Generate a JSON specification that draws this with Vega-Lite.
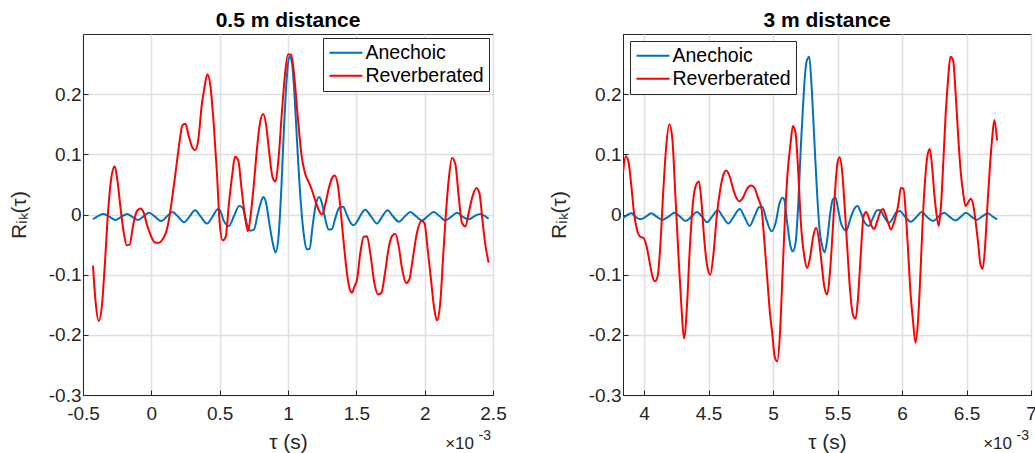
{
"$schema": "https://vega.github.io/schema/vega-lite/v6.json",
"background": "white",
"padding": {"left": 7, "top": 9, "right": 0, "bottom": 0},
"datasets": {
"near": [
{"s":"Anechoic","t":-0.427,"r":-0.008},{"s":"Anechoic","t":-0.349,"r":0.001},{"s":"Anechoic","t":-0.305,"r":-0.004},{"s":"Anechoic","t":-0.263,"r":-0.009},{"s":"Anechoic","t":-0.220,"r":-0.004},{"s":"Anechoic","t":-0.178,"r":0.001},{"s":"Anechoic","t":-0.139,"r":-0.004},{"s":"Anechoic","t":-0.098,"r":-0.009},{"s":"Anechoic","t":-0.056,"r":-0.003},{"s":"Anechoic","t":-0.017,"r":0.003},{"s":"Anechoic","t":0.029,"r":-0.004},{"s":"Anechoic","t":0.073,"r":-0.011},{"s":"Anechoic","t":0.115,"r":-0.003},{"s":"Anechoic","t":0.154,"r":0.004},{"s":"Anechoic","t":0.198,"r":-0.004},{"s":"Anechoic","t":0.239,"r":-0.013},{"s":"Anechoic","t":0.280,"r":-0.003},{"s":"Anechoic","t":0.320,"r":0.007},{"s":"Anechoic","t":0.363,"r":-0.004},{"s":"Anechoic","t":0.407,"r":-0.015},{"s":"Anechoic","t":0.449,"r":-0.003},{"s":"Anechoic","t":0.488,"r":0.009},{"s":"Anechoic","t":0.502,"r":0.007},{"s":"Anechoic","t":0.531,"r":-0.011},{"s":"Anechoic","t":0.568,"r":-0.019},{"s":"Anechoic","t":0.604,"r":-0.003},{"s":"Anechoic","t":0.643,"r":0.014},{"s":"Anechoic","t":0.668,"r":0.011},{"s":"Anechoic","t":0.697,"r":-0.014},{"s":"Anechoic","t":0.726,"r":-0.027},{"s":"Anechoic","t":0.751,"r":-0.025},{"s":"Anechoic","t":0.778,"r":0.000},{"s":"Anechoic","t":0.800,"r":0.019},{"s":"Anechoic","t":0.819,"r":0.029},{"s":"Anechoic","t":0.839,"r":0.020},{"s":"Anechoic","t":0.863,"r":-0.014},{"s":"Anechoic","t":0.888,"r":-0.047},{"s":"Anechoic","t":0.909,"r":-0.063},{"s":"Anechoic","t":0.931,"r":-0.036},{"s":"Anechoic","t":0.951,"r":0.042},{"s":"Anechoic","t":0.970,"r":0.141},{"s":"Anechoic","t":0.990,"r":0.224},{"s":"Anechoic","t":1.009,"r":0.263},{"s":"Anechoic","t":1.029,"r":0.252},{"s":"Anechoic","t":1.048,"r":0.197},{"s":"Anechoic","t":1.068,"r":0.114},{"s":"Anechoic","t":1.092,"r":0.025},{"s":"Anechoic","t":1.117,"r":-0.036},{"s":"Anechoic","t":1.136,"r":-0.058},{"s":"Anechoic","t":1.158,"r":-0.057},{"s":"Anechoic","t":1.180,"r":-0.019},{"s":"Anechoic","t":1.204,"r":0.017},{"s":"Anechoic","t":1.229,"r":0.029},{"s":"Anechoic","t":1.248,"r":0.019},{"s":"Anechoic","t":1.273,"r":-0.008},{"s":"Anechoic","t":1.297,"r":-0.025},{"s":"Anechoic","t":1.322,"r":-0.024},{"s":"Anechoic","t":1.346,"r":-0.006},{"s":"Anechoic","t":1.375,"r":0.011},{"s":"Anechoic","t":1.404,"r":0.013},{"s":"Anechoic","t":1.429,"r":0.000},{"s":"Anechoic","t":1.458,"r":-0.014},{"s":"Anechoic","t":1.480,"r":-0.018},{"s":"Anechoic","t":1.505,"r":-0.012},{"s":"Anechoic","t":1.534,"r":0.000},{"s":"Anechoic","t":1.565,"r":0.008},{"s":"Anechoic","t":1.607,"r":-0.003},{"s":"Anechoic","t":1.651,"r":-0.015},{"s":"Anechoic","t":1.690,"r":-0.003},{"s":"Anechoic","t":1.729,"r":0.007},{"s":"Anechoic","t":1.768,"r":-0.003},{"s":"Anechoic","t":1.812,"r":-0.012},{"s":"Anechoic","t":1.856,"r":-0.003},{"s":"Anechoic","t":1.895,"r":0.004},{"s":"Anechoic","t":1.937,"r":-0.003},{"s":"Anechoic","t":1.981,"r":-0.010},{"s":"Anechoic","t":2.022,"r":-0.003},{"s":"Anechoic","t":2.066,"r":0.004},{"s":"Anechoic","t":2.110,"r":-0.003},{"s":"Anechoic","t":2.151,"r":-0.010},{"s":"Anechoic","t":2.193,"r":-0.004},{"s":"Anechoic","t":2.237,"r":0.003},{"s":"Anechoic","t":2.281,"r":-0.004},{"s":"Anechoic","t":2.322,"r":-0.008},{"s":"Anechoic","t":2.363,"r":-0.003},{"s":"Anechoic","t":2.407,"r":0.001},{"s":"Anechoic","t":2.444,"r":-0.003},{"s":"Anechoic","t":2.468,"r":-0.007},
{"s":"Reverberated","t":-0.427,"r":-0.085},{"s":"Reverberated","t":-0.407,"r":-0.147},{"s":"Reverberated","t":-0.385,"r":-0.177},{"s":"Reverberated","t":-0.361,"r":-0.150},{"s":"Reverberated","t":-0.341,"r":-0.086},{"s":"Reverberated","t":-0.317,"r":0.003},{"s":"Reverberated","t":-0.293,"r":0.061},{"s":"Reverberated","t":-0.268,"r":0.080},{"s":"Reverberated","t":-0.249,"r":0.058},{"s":"Reverberated","t":-0.224,"r":0.008},{"s":"Reverberated","t":-0.202,"r":-0.030},{"s":"Reverberated","t":-0.180,"r":-0.051},{"s":"Reverberated","t":-0.159,"r":-0.050},{"s":"Reverberated","t":-0.134,"r":-0.019},{"s":"Reverberated","t":-0.105,"r":0.006},{"s":"Reverberated","t":-0.080,"r":0.010},{"s":"Reverberated","t":-0.056,"r":0.003},{"s":"Reverberated","t":-0.032,"r":-0.017},{"s":"Reverberated","t":-0.007,"r":-0.033},{"s":"Reverberated","t":0.024,"r":-0.046},{"s":"Reverberated","t":0.056,"r":-0.047},{"s":"Reverberated","t":0.080,"r":-0.042},{"s":"Reverberated","t":0.110,"r":-0.028},{"s":"Reverberated","t":0.129,"r":-0.008},{"s":"Reverberated","t":0.154,"r":0.030},{"s":"Reverberated","t":0.183,"r":0.080},{"s":"Reverberated","t":0.207,"r":0.122},{"s":"Reverberated","t":0.227,"r":0.148},{"s":"Reverberated","t":0.249,"r":0.151},{"s":"Reverberated","t":0.271,"r":0.133},{"s":"Reverberated","t":0.295,"r":0.114},{"s":"Reverberated","t":0.320,"r":0.107},{"s":"Reverberated","t":0.344,"r":0.125},{"s":"Reverberated","t":0.368,"r":0.180},{"s":"Reverberated","t":0.388,"r":0.210},{"s":"Reverberated","t":0.410,"r":0.233},{"s":"Reverberated","t":0.432,"r":0.214},{"s":"Reverberated","t":0.456,"r":0.152},{"s":"Reverberated","t":0.480,"r":0.069},{"s":"Reverberated","t":0.500,"r":-0.014},{"s":"Reverberated","t":0.522,"r":-0.043},{"s":"Reverberated","t":0.544,"r":-0.037},{"s":"Reverberated","t":0.568,"r":0.019},{"s":"Reverberated","t":0.592,"r":0.066},{"s":"Reverberated","t":0.612,"r":0.096},{"s":"Reverberated","t":0.636,"r":0.090},{"s":"Reverberated","t":0.658,"r":0.047},{"s":"Reverberated","t":0.683,"r":0.000},{"s":"Reverberated","t":0.707,"r":-0.028},{"s":"Reverberated","t":0.729,"r":0.003},{"s":"Reverberated","t":0.753,"r":0.058},{"s":"Reverberated","t":0.775,"r":0.114},{"s":"Reverberated","t":0.795,"r":0.152},{"s":"Reverberated","t":0.819,"r":0.167},{"s":"Reverberated","t":0.841,"r":0.147},{"s":"Reverberated","t":0.863,"r":0.102},{"s":"Reverberated","t":0.888,"r":0.061},{"s":"Reverberated","t":0.909,"r":0.055},{"s":"Reverberated","t":0.931,"r":0.094},{"s":"Reverberated","t":0.956,"r":0.172},{"s":"Reverberated","t":0.978,"r":0.233},{"s":"Reverberated","t":1.000,"r":0.266},{"s":"Reverberated","t":1.024,"r":0.266},{"s":"Reverberated","t":1.048,"r":0.224},{"s":"Reverberated","t":1.073,"r":0.158},{"s":"Reverberated","t":1.100,"r":0.097},{"s":"Reverberated","t":1.124,"r":0.069},{"s":"Reverberated","t":1.149,"r":0.055},{"s":"Reverberated","t":1.173,"r":0.042},{"s":"Reverberated","t":1.197,"r":0.025},{"s":"Reverberated","t":1.224,"r":0.008},{"s":"Reverberated","t":1.249,"r":0.000},{"s":"Reverberated","t":1.273,"r":0.017},{"s":"Reverberated","t":1.297,"r":0.042},{"s":"Reverberated","t":1.319,"r":0.059},{"s":"Reverberated","t":1.341,"r":0.065},{"s":"Reverberated","t":1.366,"r":0.047},{"s":"Reverberated","t":1.388,"r":0.000},{"s":"Reverberated","t":1.409,"r":-0.050},{"s":"Reverberated","t":1.431,"r":-0.097},{"s":"Reverberated","t":1.453,"r":-0.125},{"s":"Reverberated","t":1.468,"r":-0.130},{"s":"Reverberated","t":1.486,"r":-0.120},{"s":"Reverberated","t":1.505,"r":-0.108},{"s":"Reverberated","t":1.529,"r":-0.064},{"s":"Reverberated","t":1.554,"r":-0.037},{"s":"Reverberated","t":1.578,"r":-0.036},{"s":"Reverberated","t":1.603,"r":-0.066},{"s":"Reverberated","t":1.632,"r":-0.114},{"s":"Reverberated","t":1.659,"r":-0.133},{"s":"Reverberated","t":1.683,"r":-0.130},{"s":"Reverberated","t":1.710,"r":-0.097},{"s":"Reverberated","t":1.737,"r":-0.055},{"s":"Reverberated","t":1.761,"r":-0.036},{"s":"Reverberated","t":1.785,"r":-0.032},{"s":"Reverberated","t":1.810,"r":-0.053},{"s":"Reverberated","t":1.834,"r":-0.089},{"s":"Reverberated","t":1.864,"r":-0.114},{"s":"Reverberated","t":1.888,"r":-0.108},{"s":"Reverberated","t":1.912,"r":-0.075},{"s":"Reverberated","t":1.944,"r":-0.030},{"s":"Reverberated","t":1.976,"r":-0.011},{"s":"Reverberated","t":1.998,"r":-0.014},{"s":"Reverberated","t":2.022,"r":-0.058},{"s":"Reverberated","t":2.046,"r":-0.108},{"s":"Reverberated","t":2.071,"r":-0.158},{"s":"Reverberated","t":2.090,"r":-0.176},{"s":"Reverberated","t":2.115,"r":-0.144},{"s":"Reverberated","t":2.134,"r":-0.075},{"s":"Reverberated","t":2.154,"r":-0.003},{"s":"Reverberated","t":2.176,"r":0.058},{"s":"Reverberated","t":2.200,"r":0.094},{"s":"Reverberated","t":2.225,"r":0.083},{"s":"Reverberated","t":2.249,"r":0.030},{"s":"Reverberated","t":2.273,"r":-0.014},{"s":"Reverberated","t":2.298,"r":-0.020},{"s":"Reverberated","t":2.322,"r":0.003},{"s":"Reverberated","t":2.354,"r":0.033},{"s":"Reverberated","t":2.378,"r":0.044},{"s":"Reverberated","t":2.400,"r":0.036},{"s":"Reverberated","t":2.425,"r":-0.014},{"s":"Reverberated","t":2.444,"r":-0.050},{"s":"Reverberated","t":2.468,"r":-0.080}
],
"far": [
{"s":"Anechoic","t":3.837,"r":-0.006},{"s":"Anechoic","t":3.876,"r":0.000},{"s":"Anechoic","t":3.902,"r":0.002},{"s":"Anechoic","t":3.935,"r":-0.004},{"s":"Anechoic","t":3.971,"r":-0.008},{"s":"Anechoic","t":4.013,"r":-0.004},{"s":"Anechoic","t":4.056,"r":0.002},{"s":"Anechoic","t":4.100,"r":-0.004},{"s":"Anechoic","t":4.142,"r":-0.009},{"s":"Anechoic","t":4.193,"r":-0.003},{"s":"Anechoic","t":4.237,"r":0.003},{"s":"Anechoic","t":4.281,"r":-0.004},{"s":"Anechoic","t":4.322,"r":-0.011},{"s":"Anechoic","t":4.366,"r":-0.004},{"s":"Anechoic","t":4.410,"r":0.004},{"s":"Anechoic","t":4.452,"r":-0.004},{"s":"Anechoic","t":4.488,"r":-0.013},{"s":"Anechoic","t":4.529,"r":-0.003},{"s":"Anechoic","t":4.573,"r":0.007},{"s":"Anechoic","t":4.612,"r":-0.004},{"s":"Anechoic","t":4.653,"r":-0.015},{"s":"Anechoic","t":4.697,"r":-0.003},{"s":"Anechoic","t":4.741,"r":0.009},{"s":"Anechoic","t":4.779,"r":-0.004},{"s":"Anechoic","t":4.818,"r":-0.019},{"s":"Anechoic","t":4.857,"r":-0.003},{"s":"Anechoic","t":4.891,"r":0.012},{"s":"Anechoic","t":4.917,"r":0.013},{"s":"Anechoic","t":4.948,"r":-0.008},{"s":"Anechoic","t":4.989,"r":-0.028},{"s":"Anechoic","t":5.020,"r":-0.014},{"s":"Anechoic","t":5.051,"r":0.019},{"s":"Anechoic","t":5.072,"r":0.028},{"s":"Anechoic","t":5.087,"r":0.025},{"s":"Anechoic","t":5.110,"r":-0.014},{"s":"Anechoic","t":5.136,"r":-0.053},{"s":"Anechoic","t":5.154,"r":-0.061},{"s":"Anechoic","t":5.175,"r":-0.047},{"s":"Anechoic","t":5.196,"r":0.019},{"s":"Anechoic","t":5.216,"r":0.114},{"s":"Anechoic","t":5.237,"r":0.197},{"s":"Anechoic","t":5.258,"r":0.252},{"s":"Anechoic","t":5.281,"r":0.262},{"s":"Anechoic","t":5.299,"r":0.213},{"s":"Anechoic","t":5.320,"r":0.125},{"s":"Anechoic","t":5.340,"r":0.042},{"s":"Anechoic","t":5.361,"r":-0.025},{"s":"Anechoic","t":5.382,"r":-0.053},{"s":"Anechoic","t":5.400,"r":-0.063},{"s":"Anechoic","t":5.420,"r":-0.042},{"s":"Anechoic","t":5.444,"r":0.003},{"s":"Anechoic","t":5.464,"r":0.025},{"s":"Anechoic","t":5.485,"r":0.028},{"s":"Anechoic","t":5.505,"r":0.008},{"s":"Anechoic","t":5.531,"r":-0.017},{"s":"Anechoic","t":5.568,"r":-0.027},{"s":"Anechoic","t":5.601,"r":-0.006},{"s":"Anechoic","t":5.635,"r":0.011},{"s":"Anechoic","t":5.655,"r":0.014},{"s":"Anechoic","t":5.681,"r":0.003},{"s":"Anechoic","t":5.712,"r":-0.014},{"s":"Anechoic","t":5.743,"r":-0.019},{"s":"Anechoic","t":5.774,"r":-0.006},{"s":"Anechoic","t":5.808,"r":0.007},{"s":"Anechoic","t":5.831,"r":0.007},{"s":"Anechoic","t":5.859,"r":-0.003},{"s":"Anechoic","t":5.898,"r":-0.014},{"s":"Anechoic","t":5.937,"r":-0.003},{"s":"Anechoic","t":5.952,"r":0.003},{"s":"Anechoic","t":5.983,"r":0.006},{"s":"Anechoic","t":6.024,"r":-0.004},{"s":"Anechoic","t":6.068,"r":-0.012},{"s":"Anechoic","t":6.112,"r":-0.004},{"s":"Anechoic","t":6.153,"r":0.004},{"s":"Anechoic","t":6.195,"r":-0.004},{"s":"Anechoic","t":6.241,"r":-0.011},{"s":"Anechoic","t":6.282,"r":-0.004},{"s":"Anechoic","t":6.326,"r":0.003},{"s":"Anechoic","t":6.370,"r":-0.004},{"s":"Anechoic","t":6.412,"r":-0.010},{"s":"Anechoic","t":6.455,"r":-0.004},{"s":"Anechoic","t":6.494,"r":0.003},{"s":"Anechoic","t":6.541,"r":-0.004},{"s":"Anechoic","t":6.579,"r":-0.009},{"s":"Anechoic","t":6.623,"r":-0.003},{"s":"Anechoic","t":6.665,"r":0.002},{"s":"Anechoic","t":6.706,"r":-0.004},{"s":"Anechoic","t":6.737,"r":-0.008},
{"s":"Reverberated","t":3.837,"r":0.069},{"s":"Reverberated","t":3.858,"r":0.097},{"s":"Reverberated","t":3.878,"r":0.089},{"s":"Reverberated","t":3.902,"r":0.047},{"s":"Reverberated","t":3.922,"r":0.003},{"s":"Reverberated","t":3.945,"r":-0.025},{"s":"Reverberated","t":3.971,"r":-0.037},{"s":"Reverberated","t":3.997,"r":-0.039},{"s":"Reverberated","t":4.020,"r":-0.053},{"s":"Reverberated","t":4.044,"r":-0.080},{"s":"Reverberated","t":4.064,"r":-0.102},{"s":"Reverberated","t":4.085,"r":-0.111},{"s":"Reverberated","t":4.106,"r":-0.102},{"s":"Reverberated","t":4.126,"r":-0.053},{"s":"Reverberated","t":4.147,"r":0.030},{"s":"Reverberated","t":4.170,"r":0.108},{"s":"Reverberated","t":4.196,"r":0.150},{"s":"Reverberated","t":4.219,"r":0.127},{"s":"Reverberated","t":4.242,"r":0.036},{"s":"Reverberated","t":4.266,"r":-0.064},{"s":"Reverberated","t":4.289,"r":-0.150},{"s":"Reverberated","t":4.310,"r":-0.206},{"s":"Reverberated","t":4.333,"r":-0.152},{"s":"Reverberated","t":4.353,"r":-0.064},{"s":"Reverberated","t":4.379,"r":0.019},{"s":"Reverberated","t":4.405,"r":0.050},{"s":"Reverberated","t":4.426,"r":0.055},{"s":"Reverberated","t":4.446,"r":0.019},{"s":"Reverberated","t":4.467,"r":-0.042},{"s":"Reverberated","t":4.490,"r":-0.086},{"s":"Reverberated","t":4.514,"r":-0.100},{"s":"Reverberated","t":4.539,"r":-0.064},{"s":"Reverberated","t":4.565,"r":0.000},{"s":"Reverberated","t":4.591,"r":0.042},{"s":"Reverberated","t":4.612,"r":0.064},{"s":"Reverberated","t":4.637,"r":0.073},{"s":"Reverberated","t":4.663,"r":0.064},{"s":"Reverberated","t":4.689,"r":0.044},{"s":"Reverberated","t":4.715,"r":0.028},{"s":"Reverberated","t":4.741,"r":0.022},{"s":"Reverberated","t":4.767,"r":0.028},{"s":"Reverberated","t":4.797,"r":0.042},{"s":"Reverberated","t":4.831,"r":0.048},{"s":"Reverberated","t":4.857,"r":0.044},{"s":"Reverberated","t":4.883,"r":0.028},{"s":"Reverberated","t":4.912,"r":0.008},{"s":"Reverberated","t":4.932,"r":-0.042},{"s":"Reverberated","t":4.956,"r":-0.108},{"s":"Reverberated","t":4.976,"r":-0.163},{"s":"Reverberated","t":4.994,"r":-0.197},{"s":"Reverberated","t":5.012,"r":-0.235},{"s":"Reverberated","t":5.033,"r":-0.244},{"s":"Reverberated","t":5.054,"r":-0.197},{"s":"Reverberated","t":5.072,"r":-0.108},{"s":"Reverberated","t":5.092,"r":-0.008},{"s":"Reverberated","t":5.113,"r":0.069},{"s":"Reverberated","t":5.134,"r":0.114},{"s":"Reverberated","t":5.154,"r":0.147},{"s":"Reverberated","t":5.175,"r":0.135},{"s":"Reverberated","t":5.196,"r":0.069},{"s":"Reverberated","t":5.216,"r":-0.014},{"s":"Reverberated","t":5.242,"r":-0.069},{"s":"Reverberated","t":5.265,"r":-0.089},{"s":"Reverberated","t":5.289,"r":-0.069},{"s":"Reverberated","t":5.312,"r":-0.036},{"s":"Reverberated","t":5.335,"r":-0.022},{"s":"Reverberated","t":5.356,"r":-0.042},{"s":"Reverberated","t":5.376,"r":-0.080},{"s":"Reverberated","t":5.397,"r":-0.119},{"s":"Reverberated","t":5.420,"r":-0.133},{"s":"Reverberated","t":5.441,"r":-0.097},{"s":"Reverberated","t":5.462,"r":-0.030},{"s":"Reverberated","t":5.482,"r":0.042},{"s":"Reverberated","t":5.500,"r":0.086},{"s":"Reverberated","t":5.516,"r":0.095},{"s":"Reverberated","t":5.537,"r":0.069},{"s":"Reverberated","t":5.557,"r":0.008},{"s":"Reverberated","t":5.578,"r":-0.064},{"s":"Reverberated","t":5.599,"r":-0.130},{"s":"Reverberated","t":5.619,"r":-0.166},{"s":"Reverberated","t":5.640,"r":-0.173},{"s":"Reverberated","t":5.660,"r":-0.136},{"s":"Reverberated","t":5.681,"r":-0.064},{"s":"Reverberated","t":5.702,"r":-0.003},{"s":"Reverberated","t":5.722,"r":0.004},{"s":"Reverberated","t":5.743,"r":-0.006},{"s":"Reverberated","t":5.764,"r":-0.019},{"s":"Reverberated","t":5.784,"r":-0.024},{"s":"Reverberated","t":5.808,"r":-0.011},{"s":"Reverberated","t":5.831,"r":0.004},{"s":"Reverberated","t":5.852,"r":0.009},{"s":"Reverberated","t":5.872,"r":0.000},{"s":"Reverberated","t":5.893,"r":-0.014},{"s":"Reverberated","t":5.914,"r":-0.025},{"s":"Reverberated","t":5.937,"r":-0.014},{"s":"Reverberated","t":5.973,"r":0.019},{"s":"Reverberated","t":5.991,"r":0.044},{"s":"Reverberated","t":6.011,"r":0.043},{"s":"Reverberated","t":6.029,"r":0.003},{"s":"Reverberated","t":6.048,"r":-0.064},{"s":"Reverberated","t":6.066,"r":-0.130},{"s":"Reverberated","t":6.084,"r":-0.174},{"s":"Reverberated","t":6.105,"r":-0.213},{"s":"Reverberated","t":6.125,"r":-0.174},{"s":"Reverberated","t":6.143,"r":-0.097},{"s":"Reverberated","t":6.161,"r":-0.008},{"s":"Reverberated","t":6.179,"r":0.058},{"s":"Reverberated","t":6.197,"r":0.097},{"s":"Reverberated","t":6.215,"r":0.109},{"s":"Reverberated","t":6.233,"r":0.080},{"s":"Reverberated","t":6.252,"r":0.030},{"s":"Reverberated","t":6.270,"r":-0.003},{"s":"Reverberated","t":6.285,"r":-0.019},{"s":"Reverberated","t":6.303,"r":0.017},{"s":"Reverberated","t":6.321,"r":0.091},{"s":"Reverberated","t":6.339,"r":0.169},{"s":"Reverberated","t":6.357,"r":0.224},{"s":"Reverberated","t":6.375,"r":0.262},{"s":"Reverberated","t":6.396,"r":0.256},{"s":"Reverberated","t":6.417,"r":0.197},{"s":"Reverberated","t":6.437,"r":0.125},{"s":"Reverberated","t":6.456,"r":0.069},{"s":"Reverberated","t":6.474,"r":0.036},{"s":"Reverberated","t":6.492,"r":0.014},{"s":"Reverberated","t":6.510,"r":0.019},{"s":"Reverberated","t":6.533,"r":0.026},{"s":"Reverberated","t":6.554,"r":0.014},{"s":"Reverberated","t":6.572,"r":-0.014},{"s":"Reverberated","t":6.590,"r":-0.047},{"s":"Reverberated","t":6.608,"r":-0.083},{"s":"Reverberated","t":6.626,"r":-0.090},{"s":"Reverberated","t":6.644,"r":-0.053},{"s":"Reverberated","t":6.662,"r":0.014},{"s":"Reverberated","t":6.680,"r":0.075},{"s":"Reverberated","t":6.698,"r":0.125},{"s":"Reverberated","t":6.716,"r":0.157},{"s":"Reverberated","t":6.737,"r":0.123}
]
},
"hconcat": [
{
"width": 410, "height": 361,
"title": {"text": "0.5 m distance"},
"layer": [
{"data": {"name": "near"},
 "mark": {"type": "line", "strokeWidth": 2, "clip": true, "interpolate": "monotone"},
 "encoding": {
  "x": {"field": "t", "type": "quantitative", "scale": {"domain": [-0.5, 2.5], "nice": false, "zero": false},
        "axis": {"values": [-0.5, 0, 0.5, 1, 1.5, 2, 2.5], "format": "~g", "labelExpr": "replace(datum.label, '−', '-')", "title": "τ (s)"}},
  "y": {"field": "r", "type": "quantitative", "scale": {"domain": [-0.3, 0.3], "nice": false, "zero": false},
        "axis": {"values": [-0.3, -0.2, -0.1, 0, 0.1, 0.2], "format": "~g", "labelExpr": "replace(datum.label, '−', '-')", "title": "Rᵢₖ(τ)"}},
  "color": {"field": "s", "type": "nominal", "scale": {"domain": ["Anechoic", "Reverberated"], "range": ["#0072BD", "#FF0000"]},
            "legend": {"orient": "top-right", "offset": 4, "title": null}}
 }},
{"data": {"values": [{}]},
 "mark": {"type": "text", "align": "right", "baseline": "alphabetic", "dx": -19, "dy": 54, "fontSize": 17, "font": "Liberation Sans", "color": "#262626"},
 "encoding": {"x": {"datum": 2.5}, "y": {"datum": -0.3}, "text": {"value": "×10"}}},
{"data": {"values": [{}]},
 "mark": {"type": "text", "align": "right", "baseline": "alphabetic", "dx": -2, "dy": 45, "fontSize": 14, "font": "Liberation Sans", "color": "#262626"},
 "encoding": {"x": {"datum": 2.5}, "y": {"datum": -0.3}, "text": {"value": "-3"}}}
]
},
{
"width": 408, "height": 361,
"title": {"text": "3 m distance"},
"layer": [
{"data": {"name": "far"},
 "mark": {"type": "line", "strokeWidth": 2, "clip": true, "interpolate": "monotone"},
 "encoding": {
  "x": {"field": "t", "type": "quantitative", "scale": {"domain": [3.837, 7], "nice": false, "zero": false},
        "axis": {"values": [4, 4.5, 5, 5.5, 6, 6.5, 7], "format": "~g", "title": "τ (s)"}},
  "y": {"field": "r", "type": "quantitative", "scale": {"domain": [-0.3, 0.3], "nice": false, "zero": false},
        "axis": {"values": [-0.3, -0.2, -0.1, 0, 0.1, 0.2], "format": "~g", "labelExpr": "replace(datum.label, '−', '-')", "title": "Rᵢₖ(τ)"}},
  "color": {"field": "s", "type": "nominal", "scale": {"domain": ["Anechoic", "Reverberated"], "range": ["#0072BD", "#FF0000"]},
            "legend": {"orient": "top-left", "offset": 7, "title": null}}
 }},
{"data": {"values": [{}]},
 "mark": {"type": "text", "align": "right", "baseline": "alphabetic", "dx": -19, "dy": 54, "fontSize": 17, "font": "Liberation Sans", "color": "#262626"},
 "encoding": {"x": {"datum": 7}, "y": {"datum": -0.3}, "text": {"value": "×10"}}},
{"data": {"values": [{}]},
 "mark": {"type": "text", "align": "right", "baseline": "alphabetic", "dx": -2, "dy": 45, "fontSize": 14, "font": "Liberation Sans", "color": "#262626"},
 "encoding": {"x": {"datum": 7}, "y": {"datum": -0.3}, "text": {"value": "-3"}}}
]
}
],
"spacing": 130,
"bounds": "flush",
"resolve": {"scale": {"color": "independent", "x": "independent", "y": "independent"}, "legend": {"color": "independent"}},
"config": {
 "font": "Liberation Sans",
 "view": {"stroke": "#262626", "strokeWidth": 1},
 "axis": {"labelFont": "Liberation Sans", "labelFontSize": 19, "labelColor": "#262626", "labelFlush": false, "labelOverlap": false, "titleFont": "Liberation Sans", "titleFontSize": 21, "titleFontWeight": "normal", "titleColor": "#262626", "domainColor": "#262626", "tickColor": "#262626", "tickSize": -5, "gridColor": "#dfdfdf", "gridWidth": 1.5},
 "axisX": {"labelPadding": 14, "titlePadding": 8},
 "axisY": {"labelPadding": 7, "titlePadding": 19},
 "legend": {"labelFont": "Liberation Sans", "labelFontSize": 19.5, "labelColor": "#000000", "symbolType": "M-2,0H2", "symbolSize": 272, "symbolStrokeWidth": 2, "symbolOffset": 8.25, "strokeColor": "#262626", "fillColor": "white", "padding": 5, "rowPadding": 2, "labelOffset": 9.75, "cornerRadius": 0},
 "title": {"font": "Liberation Sans", "fontSize": 21, "fontWeight": "bold", "color": "#000000", "offset": 3}
}
}
